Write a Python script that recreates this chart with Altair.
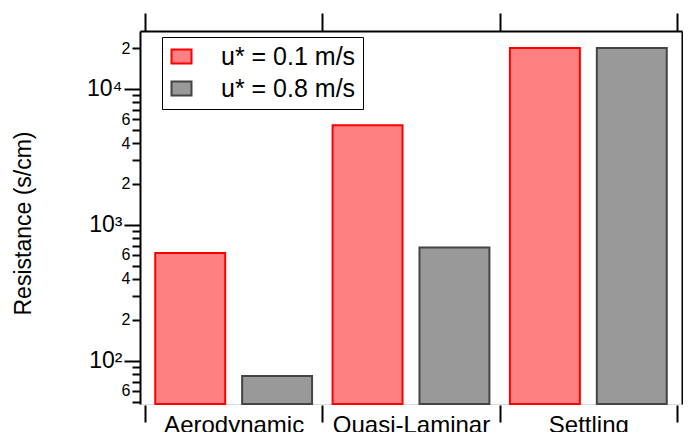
import altair as alt
import pandas as pd

categories = ["Aerodynamic", "Quasi-Laminar", "Settling"]
series_names = ["u* = 0.1 m/s", "u* = 0.8 m/s"]
values_u01 = [620, 5400, 20000]
values_u08 = [77, 680, 20000]
fill_colors = ["#FF8080", "#999999"]
stroke_colors = ["#FF0000", "#444444"]

tick_values = [50, 60, 70, 80, 90,
               100, 200, 300, 400, 500, 600, 700, 800, 900,
               1000, 2000, 3000, 4000, 5000, 6000, 7000, 8000, 9000,
               10000, 20000]
tick_labels = {60: "6", 100: "10²", 200: "2", 400: "4", 600: "6",
               1000: "10³", 2000: "2", 4000: "4", 6000: "6",
               10000: "10⁴", 20000: "2"}
major_ticks = [100, 1000, 10000]

rows = []
for c, a, b in zip(categories, values_u01, values_u08):
    rows.append({"category": c, "series": series_names[0], "value": a})
    rows.append({"category": c, "series": series_names[1], "value": b})
df = pd.DataFrame(rows)

label_expr = ""
for v, t in tick_labels.items():
    label_expr += f"datum.value == {v} ? '{t}' : "
label_expr += "''"
major_test = " || ".join(f"datum.value == {v}" for v in major_ticks)

FONT = "Liberation Sans"

x_scale = alt.Scale(domain=categories, paddingInner=0, paddingOuter=0.0281)
y_scale = alt.Scale(type="log", domain=[48, 26700], nice=False)
xo_scale = alt.Scale(domain=series_names, paddingInner=0.195, paddingOuter=0.118)
fill_scale = alt.Scale(domain=series_names, range=fill_colors)
stroke_scale = alt.Scale(domain=series_names, range=stroke_colors)

legend = alt.Legend(
    title=None, orient="none", legendX=22, legendY=6,
    strokeColor="black", padding=7, fillColor="white",
    symbolType="M-1,-0.7H1V0.7H-1Z", symbolSize=400, symbolStrokeWidth=2,
    labelFontSize=25, labelFont=FONT, labelColor="black",
    labelOffset=27, rowPadding=6,
)

base = alt.Chart(df)

bars = base.mark_bar(strokeWidth=2).encode(
    x=alt.X("category:N", scale=x_scale, sort=categories,
            axis=alt.Axis(orient="bottom", title=None, tickBand="extent",
                          labelAngle=0, labelFontSize=24, labelFont=FONT,
                          labelColor="black", labelPadding=-9, tickSize=17,
                          tickWidth=2, tickColor="black", domain=False,
                          offset=1)),
    xOffset=alt.XOffset("series:N", scale=xo_scale, sort=series_names),
    y=alt.Y("value:Q", scale=y_scale, stack=None,
            axis=alt.Axis(orient="left", title="Resistance (s/cm)",
                          values=tick_values, labelExpr=label_expr,
                          labelFontSize={"condition": {"test": major_test, "value": 23}, "value": 16},
                          tickSize={"condition": {"test": major_test, "value": 16}, "value": 8},
                          labelFont=FONT, labelColor="black", labelPadding=2,
                          tickWidth=2, tickColor="black", domainColor="black",
                          domainWidth=2, grid=False,
                          titleFontSize=23, titleFont=FONT, titleFontWeight="normal",
                          titleColor="black", titleX=-110, titleY=192,
                          titleBaseline="alphabetic")),
    y2=alt.value("height"),
    fill=alt.Fill("series:N", scale=fill_scale, legend=legend),
    stroke=alt.Stroke("series:N", scale=stroke_scale, legend=legend),
)

frame = base.mark_bar(opacity=0).encode(
    x=alt.X("category:N", scale=x_scale, sort=categories,
            axis=alt.Axis(orient="top", title=None, tickBand="extent",
                          labels=False, tickSize=18, tickWidth=2,
                          tickColor="black", domainColor="black",
                          domainWidth=2)),
    xOffset=alt.XOffset("series:N", scale=xo_scale, sort=series_names),
    y=alt.Y("value:Q", scale=y_scale, stack=None,
            axis=alt.Axis(orient="right", title=None, values=tick_values,
                          labels=False,
                          tickSize={"condition": {"test": major_test, "value": 8}, "value": 6},
                          tickWidth=2, tickColor="black", domainColor="black",
                          domainWidth=2, grid=False)),
    y2=alt.value("height"),
)

chart = alt.layer(bars, frame).resolve_axis(x="independent", y="independent").properties(
    width=542, height=373,
    padding={"left": 132, "top": 23, "right": 1, "bottom": 28},
    autosize=alt.AutoSizeParams(type="none"),
).configure_view(stroke="black", strokeWidth=2).configure(font=FONT)

chart.save("out.html", embed_options={"renderer": "svg", "actions": False})
